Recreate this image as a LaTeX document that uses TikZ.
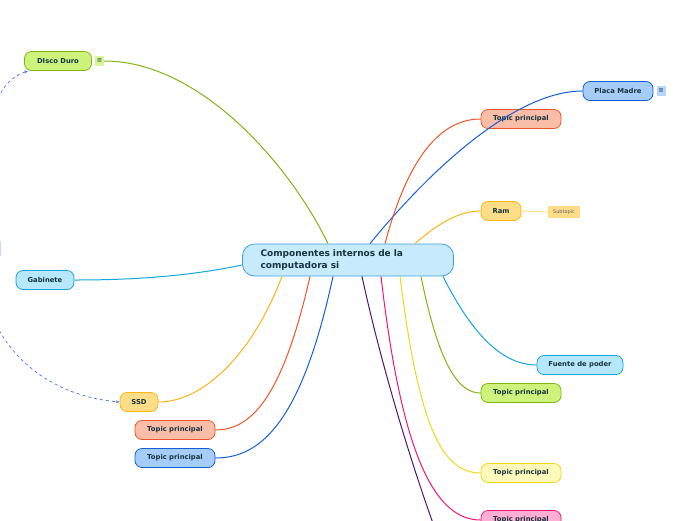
\documentclass[tikz,border=0pt]{standalone}
\usepackage{fontspec}
\setmainfont{DejaVu Sans}
\usepackage{tikz}
\usetikzlibrary{arrows.meta, calc}
\usepackage{xcolor}
\definecolor{txt}{RGB}{22,52,62}
\definecolor{cenfill}{RGB}{199,235,252}
\definecolor{cenline}{RGB}{60,160,220}
\definecolor{grnfill}{RGB}{206,243,125}
\definecolor{grnline}{RGB}{128,182,16}
\definecolor{blufill}{RGB}{166,204,250}
\definecolor{bluline}{RGB}{20,95,215}
\definecolor{orafill}{RGB}{249,189,168}
\definecolor{oraline}{RGB}{238,85,40}
\definecolor{ylwfill}{RGB}{254,221,136}
\definecolor{ylwline}{RGB}{250,180,20}
\definecolor{cyafill}{RGB}{182,231,250}
\definecolor{cyaline}{RGB}{20,165,225}
\definecolor{lemfill}{RGB}{255,249,188}
\definecolor{lemline}{RGB}{240,215,20}
\definecolor{pnkfill}{RGB}{255,174,212}
\definecolor{pnkline}{RGB}{245,20,120}
\definecolor{purline}{RGB}{80,20,110}
\definecolor{relline}{RGB}{70,110,240}
\tikzstyle{topic} = [rectangle, rounded corners=7pt, minimum width=80pt, minimum height=19pt, inner sep=1pt, text centered, draw, line width=0.8pt, text=txt, font=\fontsize{6.8}{7}\selectfont\bfseries]
\tikzstyle{note} = [rectangle, minimum width=9pt, minimum height=10pt, inner sep=0pt, text=txt, font=\fontsize{6.5}{6}\selectfont]
\tikzstyle{link} = [line width=1pt]
\tikzstyle{rel} = [relline, dashed, line width=0.7pt, -{Stealth[length=4pt]}]

\begin{document}
\begin{tikzpicture}[x=1pt, y=-1pt]
  \useasboundingbox (0,0) rectangle (696,520);
  \node[rectangle, rounded corners=12pt, draw=cenline, fill=cenfill, line width=0.8pt, minimum width=211pt, minimum height=32pt, inner xsep=18pt, text width=175pt, align=left, text=txt, font=\fontsize{9}{12}\selectfont\bfseries] (center) at (348,260) {Componentes internos de la\\computadora si};

  % left side
  \node[topic, fill=grnfill, draw=grnline, minimum width=67pt] (disco) at (58,61) {DIsco Duro};
  \node[note, fill=grnfill!80] (disconote) at (99.5,61) {≡};
  \node[topic, fill=cyafill, draw=cyaline, minimum width=58pt] (gabinete) at (45,280) {Gabinete};
  \node[topic, fill=ylwfill, draw=ylwline, minimum width=38pt] (ssd) at (139,402) {SSD};
  \node[topic, fill=orafill, draw=oraline] (oraleft) at (175,430) {Topic principal};
  \node[topic, fill=blufill, draw=bluline] (bluleft) at (175,458) {Topic principal};
  \node[rectangle, fill=blufill!70, minimum width=40pt, minimum height=15pt] (hidden) at (-19,248) {};

  % right side
  \node[topic, fill=blufill, draw=bluline, minimum width=70pt] (placa) at (618,91) {Placa Madre};
  \node[note, fill=blufill!80] (placanote) at (661,91) {≡};
  \node[topic, fill=orafill, draw=oraline] (oraright) at (521,119) {Topic principal};
  \node[topic, fill=ylwfill, draw=ylwline, minimum width=40pt] (ram) at (501,211) {Ram};
  \node[rectangle, fill=ylwfill, minimum width=32pt, minimum height=12pt, inner sep=0pt, text=black!60, font=\fontsize{5}{5}\selectfont] (subtopic) at (564,212) {Subtopic};
  \node[topic, fill=cyafill, draw=cyaline, minimum width=86pt] (fuente) at (580,365) {Fuente de poder};
  \node[topic, fill=grnfill, draw=grnline] (grnright) at (521,393) {Topic principal};
  \node[topic, fill=lemfill, draw=lemline] (lemright) at (521,473) {Topic principal};
  \node[topic, fill=pnkfill, draw=pnkline] (pnkright) at (521,520) {Topic principal};
  \coordinate (purend) at (434,526);

  \draw[link, grnline] ([xshift=-20pt]center.north) .. controls (290,165) and (200,61) .. (disconote.east);
  \draw[link, bluline] ([xshift=22pt]center.north) .. controls (430,170) and (515,91) .. (placa.west);
  \draw[link, oraline] ([xshift=37pt]center.north) .. controls (402,180) and (430,119) .. (oraright.west);
  \draw[link, ylwline] ([xshift=67pt]center.north) .. controls (440,222) and (460,211) .. (ram.west);
  \draw[ylwfill, line width=1pt] (ram.east) -- (subtopic.west);
  \draw[link, cyaline] ([yshift=-5pt]center.west) .. controls (180,278) and (120,280) .. (gabinete.east);
  \draw[link, cyaline] ([xshift=95pt]center.south) .. controls (470,330) and (500,365) .. (fuente.west);
  \draw[link, grnline] ([xshift=73pt]center.south) .. controls (440,370) and (460,393) .. (grnright.west);
  \draw[link, lemline] ([xshift=52pt]center.south) .. controls (418,420) and (440,473) .. (lemright.west);
  \draw[link, pnkline] ([xshift=33pt]center.south) .. controls (400,440) and (430,520) .. (pnkright.west);
  \draw[link, purline] ([xshift=14pt]center.south) .. controls (380,360) and (410,460) .. (purend);
  \draw[link, ylwline] ([xshift=-66pt]center.south) .. controls (250,360) and (200,402) .. (ssd.east);
  \draw[link, oraline] ([xshift=-38pt]center.south) .. controls (282,400) and (250,430) .. (oraleft.east);
  \draw[link, bluline] ([xshift=-15pt]center.south) .. controls (302,420) and (262,458) .. (bluleft.east);

  % relations
  \draw[rel] (hidden.north) .. controls (-20,110) and (0,80) .. ([xshift=4pt]disco.south west);
  \draw[rel] (hidden.south) .. controls (-20,340) and (40,395) .. (ssd.west);
\end{tikzpicture}
\end{document}
